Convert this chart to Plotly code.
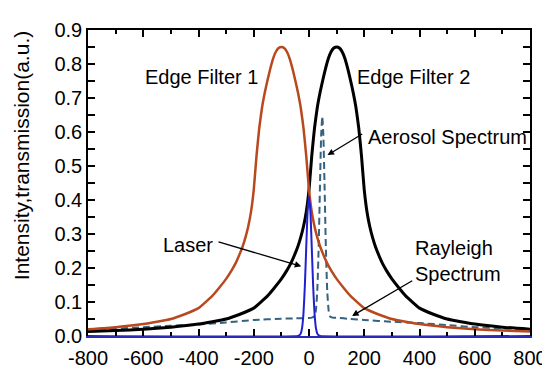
import plotly.graph_objects as go

# Edge Filter 1 (peak near -100)
x_f1 = [-800, -700, -600, -550, -500, -450, -400, -350, -325, -300, -280, -265, -250, -240,
        -230, -220, -210, -200, -190, -180, -170, -160, -150, -140, -130, -120, -110, -100,
        -90, -80, -70, -60, -50, -40, -30, -20, -10, 0, 10, 20, 30, 40, 50, 65, 80, 100,
        125, 150, 200, 250, 300, 350, 400, 500, 600, 700, 800]
y_f1 = [0.020, 0.026, 0.035, 0.042, 0.050, 0.064, 0.082, 0.118, 0.142, 0.168, 0.193, 0.215, 0.243, 0.264,
        0.290, 0.322, 0.365, 0.430, 0.530, 0.612, 0.672, 0.716, 0.753, 0.787, 0.816, 0.836, 0.847, 0.850,
        0.847, 0.836, 0.816, 0.787, 0.753, 0.716, 0.672, 0.612, 0.530, 0.430, 0.365, 0.322, 0.290, 0.264,
        0.243, 0.215, 0.193, 0.168, 0.142, 0.118, 0.082, 0.064, 0.050, 0.042, 0.035, 0.026, 0.020, 0.016,
        0.013]

# Edge Filter 2 (peak near +100)
x_f2 = [-800, -700, -600, -500, -400, -350, -300, -250, -200, -150, -125, -100, -80, -65, -50,
        -40, -30, -20, -10, 0, 10, 20, 30, 40, 50, 60, 70, 80, 90, 100, 110, 120, 130, 140,
        150, 160, 170, 180, 190, 200, 210, 220, 230, 240, 250, 265, 280, 300, 325, 350, 400,
        450, 500, 550, 600, 700, 800]
y_f2 = [0.013, 0.016, 0.020, 0.026, 0.035, 0.042, 0.050, 0.064, 0.082, 0.118, 0.142, 0.168, 0.193, 0.215,
        0.243, 0.264, 0.290, 0.322, 0.365, 0.430, 0.530, 0.612, 0.672, 0.716, 0.753, 0.787, 0.816, 0.836,
        0.847, 0.850, 0.847, 0.836, 0.816, 0.787, 0.753, 0.716, 0.672, 0.612, 0.530, 0.430, 0.365, 0.322,
        0.290, 0.264, 0.243, 0.215, 0.193, 0.168, 0.142, 0.118, 0.082, 0.064, 0.050, 0.042, 0.035, 0.026,
        0.020]

# Laser line
x_laser = [-800, -40, -35, -30, -25, -20, -15, -10, -5, 0, 5, 10, 15, 20, 25, 30, 35, 40, 800]
y_laser = [0.0, 0.0, 0.002, 0.007, 0.024, 0.067, 0.148, 0.261, 0.366, 0.410,
           0.366, 0.261, 0.148, 0.067, 0.024, 0.007, 0.002, 0.0, 0.0]

# Rayleigh + Aerosol spectrum (dashed)
x_spec = [-800, -700, -600, -500, -400, -300, -200, -100, -50, 0, 10, 20, 25, 30, 35, 40, 44,
          48, 52, 56, 61, 66, 71, 76, 85, 100, 150, 200, 300, 400, 500, 600, 700, 800]
y_spec = [0.018, 0.021, 0.026, 0.030, 0.034, 0.040, 0.047, 0.051, 0.052, 0.053, 0.054, 0.058, 0.076,
          0.133, 0.262, 0.453, 0.590, 0.646, 0.590, 0.453, 0.262, 0.133, 0.076, 0.058, 0.054,
          0.054, 0.050, 0.047, 0.042, 0.038, 0.032, 0.026, 0.022, 0.019]

x_ticks = [-800, -600, -400, -200, 0, 200, 400, 600, 800]
y_ticks = [0.0, 0.1, 0.2, 0.3, 0.4, 0.5, 0.6, 0.7, 0.8, 0.9]

FONT = "Liberation Sans, Arial, sans-serif"

fig = go.Figure()
fig.add_trace(go.Scatter(x=x_spec, y=y_spec, mode="lines", name="Spectrum",
                         line=dict(color="#35627e", width=2, dash="7px,4px", shape="spline", smoothing=0.5)))
fig.add_trace(go.Scatter(x=x_f2, y=y_f2, mode="lines", name="Edge Filter 2",
                         line=dict(color="#000000", width=3, shape="spline", smoothing=0.4)))
fig.add_trace(go.Scatter(x=x_f1, y=y_f1, mode="lines", name="Edge Filter 1",
                         line=dict(color="#b8481e", width=2.5, shape="spline", smoothing=0.4)))
fig.add_trace(go.Scatter(x=x_laser, y=y_laser, mode="lines", name="Laser",
                         line=dict(color="#2020d0", width=2, shape="spline", smoothing=0.5)))

ann_font = dict(family=FONT, size=20, color="#000000")
fig.add_annotation(x=-389, y=0.762, text="Edge Filter 1", showarrow=False, font=ann_font)
fig.add_annotation(x=379, y=0.762, text="Edge Filter 2", showarrow=False, font=ann_font)
fig.add_annotation(x=502, y=0.586, text="Aerosol Spectrum", showarrow=False, font=ann_font)
fig.add_annotation(x=-439, y=0.268, text="Laser", showarrow=False, font=ann_font)
fig.add_annotation(x=375, y=0.220, text="Rayleigh<br>Spectrum", showarrow=False, font=ann_font,
                   xanchor="left", align="left")

arrow = dict(showarrow=True, text="", axref="x", ayref="y", arrowhead=2, arrowsize=1,
             arrowwidth=1.3, arrowcolor="#000000", standoff=0, startstandoff=0)
fig.add_annotation(x=-28, y=0.205, ax=-333, ay=0.278, **arrow)
fig.add_annotation(x=67, y=0.532, ax=198, ay=0.597, **arrow)
fig.add_annotation(x=156, y=0.059, ax=379, ay=0.165, **arrow)

fig.add_annotation(xref="paper", yref="paper", x=-0.150, y=0.590, xanchor="center", yanchor="middle",
                   text="Intensity,transmission(a.u.)", textangle=-90, showarrow=False,
                   font=dict(family=FONT, size=21, color="#000000"))

tickfont = dict(family=FONT, size=20, color="#000000")
common = dict(showgrid=False, zeroline=False, ticks="inside", ticklen=7, tickwidth=1.5,
              tickcolor="#000000", showline=True, linewidth=1.5)

# bottom axis (carries the blue laser baseline colour)
fig.update_layout(
    xaxis=dict(range=[-800, 800], tickvals=x_ticks, ticktext=[str(v) for v in x_ticks],
               linecolor="#2a2ab8", linewidth=2, mirror=False, tickfont=tickfont, ticklabelstandoff=3,
               minor=dict(ticks="inside", ticklen=4, dtick=100, tickwidth=1.5, tickcolor="#000000"),
               **{k: v for k, v in common.items() if k != "linewidth"}),
    xaxis2=dict(range=[-800, 800], overlaying="x", side="top", matches="x", linecolor="#000000",
                tickvals=x_ticks, showticklabels=False,
                minor=dict(ticks="inside", ticklen=4, dtick=100, tickwidth=1.5, tickcolor="#000000"),
                **common),
    yaxis=dict(range=[0, 0.9], tickvals=y_ticks, ticktext=[f"{v:.1f}" for v in y_ticks],
               linecolor="#000000", mirror="allticks", tickfont=tickfont,
               minor=dict(ticks="inside", ticklen=4, dtick=0.05, tickwidth=1.5, tickcolor="#000000"),
               **common),
)
# invisible helper trace so the top axis is drawn
fig.add_trace(go.Scatter(x=[x_ticks[0]], y=[y_ticks[0]], xaxis="x2", mode="lines",
                         showlegend=False, hoverinfo="skip", line=dict(width=0)))

fig.update_layout(width=550, height=372, margin=dict(l=80, r=18, t=11, b=28),
                  paper_bgcolor="#ffffff", plot_bgcolor="#ffffff", showlegend=False,
                  font=dict(family=FONT, size=20, color="#000000"))

fig.write_html("out.html")
